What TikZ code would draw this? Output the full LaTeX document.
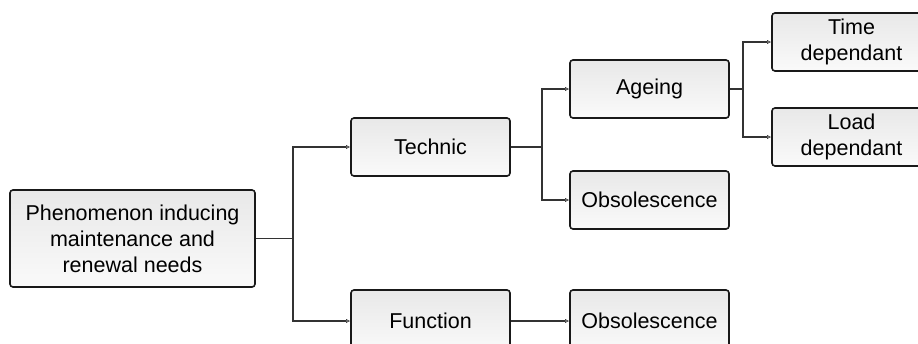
\documentclass[tikz,border=0pt]{standalone}
\usepackage{fontspec}
\setmainfont{Liberation Sans}
\usetikzlibrary{arrows.meta}
\begin{document}
\begin{tikzpicture}[x=1pt,y=-1pt,
  box/.style={draw=black!90,line width=1.6pt,rounded corners=3pt,
    top color=black!9,bottom color=black!2,
    minimum width=159pt,minimum height=58pt,inner sep=0pt,align=center,
    font=\fontsize{21.5}{26}\selectfont},
  link/.style={draw=black!80,line width=1.5pt},
  arr/.style={link,-{Latex[length=4pt,width=4pt,fill=black!45,line width=0.4pt]}}]
\useasboundingbox (0,0) rectangle (918,343);
\clip (0,0) rectangle (918,343);
% boxes
\node[box,minimum width=245pt,minimum height=97pt] (root) at (132.5,238.5)
  {Phenomenon inducing\\maintenance and\\renewal needs};
\node[box] (technic) at (430.5,147) {Technic};
\node[box,minimum height=62pt] (function) at (430.5,321) {Function};
\node[box] (ageing) at (649.5,89) {Ageing};
\node[box] (obsa) at (649.5,200) {Obsolescence};
\node[box,minimum height=62pt] (obsb) at (649.5,321) {Obsolescence};
\node[box] (time) at (851.5,42) {Time\\dependant};
\node[box] (load) at (851.5,137) {Load\\dependant};
% junctions
\coordinate (j1) at (293,238.5);
\coordinate (j2) at (542,147);
\coordinate (j3) at (743,89);
% connectors
\draw[link] (root) -- (j1);
\draw[arr] (j1) |- (technic);
\draw[arr] (j1) |- (function);
\draw[link] (technic) -- (j2);
\draw[arr] (j2) |- (ageing);
\draw[arr] (j2) |- (obsa);
\draw[arr] (function) -- (obsb);
\draw[link] (ageing) -- (j3);
\draw[arr] (j3) |- (time);
\draw[arr] (j3) |- (load);
\end{tikzpicture}
\end{document}
